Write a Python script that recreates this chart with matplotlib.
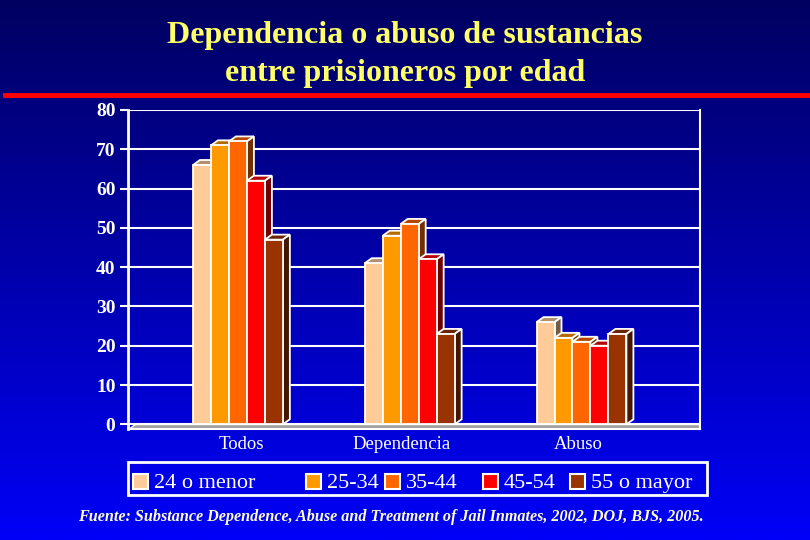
import matplotlib
matplotlib.use("Agg")
import matplotlib.pyplot as plt
import numpy as np
from matplotlib.patches import Polygon, Rectangle
from matplotlib.colors import to_rgb

categories = ["Todos", "Dependencia", "Abuso"]
series = ["24 o menor", "25-34", "35-44", "45-54", "55 o mayor"]
values = {
    "24 o menor": [66, 41, 26],
    "25-34": [71, 48, 22],
    "35-44": [72, 51, 21],
    "45-54": [62, 42, 20],
    "55 o mayor": [47, 23, 23],
}
colors = ["#FFCC99", "#FF9900", "#FF6600", "#FF0000", "#993300"]
yticks = [0, 10, 20, 30, 40, 50, 60, 70, 80]

W, H = 810, 540
fig = plt.figure(figsize=(W / 100, H / 100), dpi=100)

# background gradient
bg = fig.add_axes([0, 0, 1, 1], zorder=-10)
grad = np.linspace(0, 1, 256)[:, None]
top = np.array([0, 0, 0x60]) / 255
bot = np.array([0, 0, 0xF8]) / 255
img = top + (bot - top) * grad[:, :, None]
bg.imshow(np.repeat(img, 2, axis=1), aspect="auto", extent=[0, 1, 0, 1])
bg.set_xlim(0, 1)
bg.set_ylim(0, 1)
bg.axis("off")
# red line under title
bg.plot([5 / W, 1], [1 - 95 / H, 1 - 95 / H], color="#FF0000", lw=3.5)

fig.text(0.5, 1 - 36 / H, "Dependencia o abuso de sustancias", ha="center", va="center",
         color="#FFFF66", fontsize=23, fontweight="bold", family="Liberation Serif")
fig.text(0.5, 1 - 74 / H, "entre prisioneros por edad", ha="center", va="center",
         color="#FFFF66", fontsize=23, fontweight="bold", family="Liberation Serif")

ax = fig.add_axes([128 / W, 1 - 429 / H, (700 - 128) / W, (429 - 110) / H])
ax.set_facecolor("none")
ax.set_xlim(-0.64, 2.69)
ax.set_ylim(-1.2, 80)

w = 18 / 172
dx = 7 / 172
dy = 5 / 3.925
x = np.arange(len(categories))

ax.grid(axis="y", color="white", lw=1.5, zorder=0)
ax.set_axisbelow(True)

# floor
ax.add_patch(Polygon([[-0.64, -1.2], [2.69, -1.2], [2.69, 0], [-0.64 + dx, 0]],
                     closed=True, facecolor="#A0A0A0", edgecolor="white", lw=1, zorder=1))

for i, s in enumerate(series):
    xs = x + (i - 2) * w
    ax.bar(xs, values[s], width=w, color=colors[i], edgecolor="white", lw=1.3, zorder=3)
    c = np.array(to_rgb(colors[i]))
    for xi, v in zip(xs, values[s]):
        l, r = xi - w / 2, xi + w / 2
        ax.add_patch(Polygon([[l, v], [r, v], [r + dx, v + dy], [l + dx, v + dy]], closed=True,
                             facecolor=c * 0.7, edgecolor="white", lw=1.3, zorder=2))
        ax.add_patch(Polygon([[r, 0], [r + dx, dy], [r + dx, v + dy], [r, v]], closed=True,
                             facecolor=c * 0.45, edgecolor="white", lw=1.3, zorder=2))

ax.set_yticks(yticks)
ax.set_yticklabels([str(t) for t in yticks], color="white", fontsize=14,
                   fontweight="bold", family="Liberation Serif")
ax.tick_params(axis="y", colors="white", length=6, width=1.5, pad=3)
# category labels sit a little off the group centres in the reference
ax.set_xticks([0.02, 0.95, 1.98])
ax.set_xticklabels(categories, color="white", fontsize=13.5, family="Liberation Serif")
ax.tick_params(axis="x", length=0, pad=5)

ax.spines["top"].set_visible(False)
ax.spines["left"].set_color("white")
ax.spines["left"].set_linewidth(2)
ax.spines["right"].set_color("white")
ax.spines["right"].set_linewidth(1.5)
ax.spines["bottom"].set_color("white")
ax.spines["bottom"].set_linewidth(1.5)

# legend, placed by hand to follow the reference's uneven spacing
fig.patches.append(Rectangle((128 / W, 1 - 495 / H), (707 - 128) / W, 33 / H,
                             transform=fig.transFigure, facecolor="#0000E8",
                             edgecolor="white", lw=2, zorder=5))
marker_px = [133, 306, 385, 483, 570]
ly = 1 - 481 / H
for i, s in enumerate(series):
    fig.patches.append(Rectangle((marker_px[i] / W, ly - 7.5 / H), 15 / W, 15 / H,
                                 transform=fig.transFigure, facecolor=colors[i],
                                 edgecolor="white", lw=1.5, zorder=6))
    fig.text((marker_px[i] + 21) / W, 1 - 488 / H, s, ha="left", va="baseline", color="white",
             fontsize=16, family="Liberation Serif", zorder=7)

fig.text(391 / W, 1 - 517 / H,
         "Fuente: Substance Dependence, Abuse and Treatment of Jail Inmates, 2002, DOJ, BJS, 2005.",
         ha="center", va="center", color="#FFFFCC", fontsize=11.6, fontweight="bold",
         fontstyle="italic", family="Liberation Serif")

fig.savefig("out.png", dpi=100)
